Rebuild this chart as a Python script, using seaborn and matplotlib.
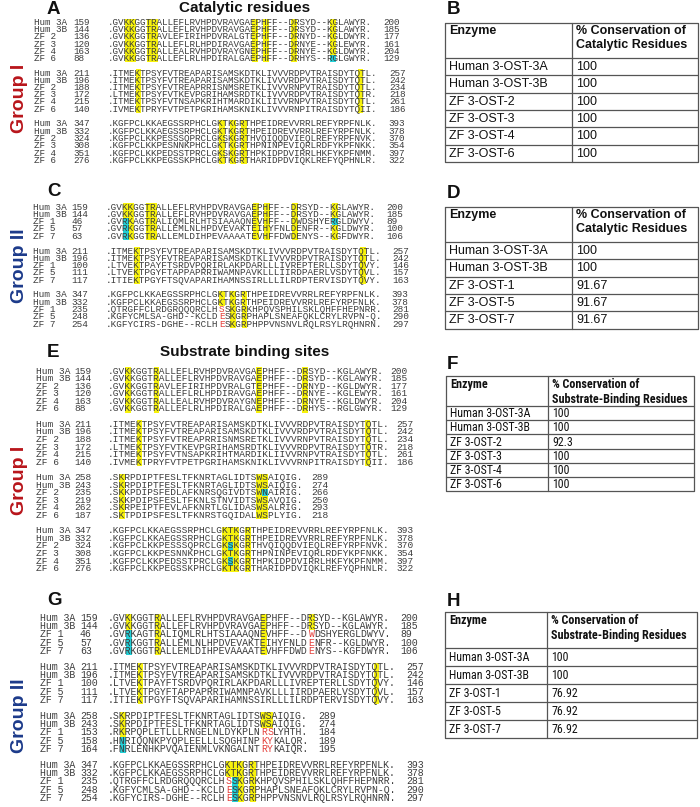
import matplotlib
matplotlib.use("Agg")
import matplotlib.pyplot as plt
import numpy as np
import seaborn as sns
from matplotlib import font_manager
from matplotlib.colors import ListedColormap
from matplotlib.font_manager import FontProperties

sns.set_theme(style="white")
plt.rcParams["font.family"] = ["Liberation Sans", "DejaVu Sans"]

W, H = 700, 807
YELLOW = "#f7f20c"
CYAN = "#22cfd6"
RED_TXT = "#e5403b"
SEQ_TXT = "#3c3c3c"
MONO = "Liberation Mono"

# ---- alignment data -------------------------------------------------------
G1_NAMES = ["Hum 3A", "Hum 3B", "ZF 2", "ZF 3", "ZF 4", "ZF 6"]
G2_NAMES = ["Hum 3A", "Hum 3B", "ZF 1", "ZF 5", "ZF 7"]

HUM_SEG1 = ".GVKKGGTRALLEFLRVHPDVRAVGAEPHFF--DRSYD--KGLAWYR."
HUM_SEG2 = ".ITMEKTPSYFVTREAPARISAMSKDTKLIVVVRDPVTRAISDYTQTL."
HUM_SEG3 = ".SKRPDIPTFESLTFKNRTAGLIDTSWSAIQIG."
HUM_SEG4 = ".KGFPCLKKAEGSSRPHCLGKTKGRTHPEIDREVVRRLREFYRPFNLK."

G1_SEG1 = [HUM_SEG1, HUM_SEG1,
           ".GVKKGGTRAVLEFIRIHPDVRALGTEPHFF--DRNYD--KGLDWYR.",
           ".GVKKGGTRALLEFLRLHPDIRAVGAEPHFF--DRNYE--KGLEWYR.",
           ".GVKKGGTRALLEALRVHPDVRAYGNEPHFF--DRNYE--KGLDWYR.",
           ".GVKKGGTRALLEFLRLHPDIRALGAEPHFF--DRHYS--RGLGWYR."]
G1_SEG1_START = [159, 144, 136, 120, 163, 88]
G1_SEG1_END = [200, 185, 177, 161, 204, 129]

G1_SEG2 = [HUM_SEG2, HUM_SEG2,
           ".ITMEKTPSYFVTREAPRRISNMSRETKLIVVVRNPVTRAISDYTQTL.",
           ".LTMEKTPSYFVTKEVPGRIHAMSRDTKLIVVVRDPVTRAISDYTQTR.",
           ".ITMEKTPSYFVTNSAPKRIHTMARDIKLIIVVRNPVTRAISDYTQTL.",
           ".IVMEKTPRYFVTPETPGRIHAMSKNIKLIVVVRNPITRAISDYTQII."]
G1_SEG2_START = [211, 196, 188, 172, 215, 140]
G1_SEG2_END = [257, 242, 234, 218, 261, 186]

G1_SEG3 = [HUM_SEG3, HUM_SEG3,
           ".SKKPDIPSFEDLAFKNRSQGIVDTSWNAIRIG.",
           ".SKKPDIPSFESLTFKNLSTNVIDTSWSAVQIG.",
           ".SKRPEIPTFEVLAFKNRTLGLIDASWSALRIG.",
           ".SKTPDIPSFESLTFKNRSTGQIDALWSPLYIG."]
G1_SEG3_START = [258, 243, 235, 219, 262, 187]
G1_SEG3_END = [289, 274, 266, 250, 293, 218]

G1_SEG4 = [HUM_SEG4, HUM_SEG4,
           ".KGFPCLKKPESSSQPRCLGKSKGRTHVQIQQDVIEQLREFYRPFNVK.",
           ".KGFPCLKKPESNNKPHCLGKTKGRTHPNINPEVIQRLRDFYKPFNKK.",
           ".KGFPCLKKPEDSSTPRCLGKSKGRTHPKIDPDVIRRLHKFYKPFNMM.",
           ".KGFPCLKKPEGSSKPHCLGKTKGRTHARIDPDVIQKLREFYQPHNLR."]
G1_SEG4_START = [347, 332, 324, 308, 351, 276]
G1_SEG4_END = [393, 378, 370, 354, 397, 322]

G2_SEG1 = [HUM_SEG1, HUM_SEG1,
           ".GVRKAGTRALIQMLRLHTSIAAAQNEVHFF--DWDSHYERGLDWYV.",
           ".GVRKGGTRALLEMLNLHPDVEVAKTEIHYFNLDENFR--KGLDWYR.",
           ".GVRKGGTRALLEMLDIHPEVAAAATEVHFFDWDENYS--KGFDWYR."]
G2_SEG1_START = [159, 144, 46, 57, 63]
G2_SEG1_END = [200, 185, 89, 100, 106]

G2_SEG2 = [HUM_SEG2, HUM_SEG2,
           ".LTVEKTPAYFTSRDVPQRIRLAKPDARLLLIVREPTERLLSDYTQVY.",
           ".LTVEKTPGYFTAPPAPRRIWAMNPAVKLLLIIRDPAERLVSDYTQVL.",
           ".ITIEKTPGYFTSQVAPARIHAMNSSIRLLLILRDPTERVISDYTQVY."]
G2_SEG2_START = [211, 196, 100, 111, 117]
G2_SEG2_END = [257, 242, 146, 157, 163]

G2_SEG3 = [HUM_SEG3, HUM_SEG3,
           ".RKRPQPLETLLLRNGELNLDYKPLNRSLYHTH.",
           ".HNRIQQNKPYQPLEELLLSQGHINPKYKALQR.",
           ".FNRLENHKPVQAIENMLVKNGALNTRYKAIQR."]
G2_SEG3_START = [258, 243, 153, 158, 164]
G2_SEG3_END = [289, 274, 184, 189, 195]

G2_SEG4 = [HUM_SEG4, HUM_SEG4,
           ".QTRGFFCLRDGRQQQRCLHSSKGRKHPQVSPHILSKLQHFFHEPNRR.",
           ".KGFYCMLSA-GHD--KCLDESKGRPHAPLSNEAFQKLCRYLRVPN-Q.",
           ".KGFYCIRS-DGHE--RCLHESKGRPHPPVNSNVLRQLRSYLRQHNRN."]
G2_SEG4_START = [347, 332, 235, 248, 254]
G2_SEG4_END = [393, 378, 281, 290, 297]

# conserved residue columns (y = yellow, c = cyan, r = red letter)
CAT_SEG1_COLS = [3, 4, 7, 8, 26, 28, 33, 40]
CAT_SEG2_COLS = [5, 45]
CAT_SEG4_COLS = [20, 22, 24]
SUB_SEG1_COLS = [3, 8, 26, 34]
SUB_SEG2_COLS = [5, 45]
SUB_SEG3_COLS = [2, 26, 27]
SUB_SEG4_COLS = [20, 21, 22, 24]

A_SEG1_FIX = {5: {40: "c"}}
C_SEG1_FIX = {2: {3: "c", 40: "c"}, 3: {3: "c"}, 4: {3: "c"}}
C_SEG4_FIX = {2: {20: "r"}, 3: {20: "r"}, 4: {20: "r"}}
E_SEG3_FIX = {2: {27: "c"}}
E_SEG4_FIX = {2: {21: "c"}, 4: {21: "c"}}
G_SEG1_FIX = {2: {3: "c", 34: "r"}, 3: {3: "c", 34: "r"}, 4: {3: "c", 34: "r"}}
G_SEG3_FIX = {2: {26: "r", 27: "r"}, 3: {2: "c", 26: "r", 27: "r"},
              4: {2: "c", 26: "r", 27: "r"}}
G_SEG4_FIX = {2: {20: "r", 21: "c"}, 3: {20: "r", 21: "c"}, 4: {20: "r", 21: "c"}}

# ---- table data ------------------------------------------------------------
G1_ENZYMES = ["Human 3-OST-3A", "Human 3-OST-3B", "ZF 3-OST-2",
              "ZF 3-OST-3", "ZF 3-OST-4", "ZF 3-OST-6"]
G2_ENZYMES = ["Human 3-OST-3A", "Human 3-OST-3B", "ZF 3-OST-1",
              "ZF 3-OST-5", "ZF 3-OST-7"]
B_VALUES = [100, 100, 100, 100, 100, 100]
D_VALUES = [100, 100, 91.67, 91.67, 91.67]
F_VALUES = [100, 100, 92.3, 100, 100, 100]
H_VALUES = [100, 100, 76.92, 76.92, 76.92]

CAT_HEADER = "% Conservation of\nCatalytic Residues"
SUB_HEADER = "% Conservation of\nSubstrate-Binding Residues"

# narrow face for the F/H tables if one is installed
_names = {f.name for f in font_manager.fontManager.ttflist}
NARROW = next((n for n in ["Liberation Sans Narrow", "Roboto Condensed", "Arial Narrow"]
               if n in _names), "Liberation Sans")


def draw_block(fig, names, seqs, starts, ends, cols, fixes, geo, first_y):
    x0, px, py, name_x, num_x = geo
    nrow, ncol = len(seqs), len(seqs[0])
    codes = np.zeros((nrow, ncol))
    for i in range(nrow):
        codes[i, cols] = 1
        for c, v in fixes.get(i, {}).items():
            codes[i, c] = {"y": 1, "c": 2, "r": 0}[v]
    top = first_y - py / 2
    ax = fig.add_axes([x0 / W, 1 - (top + nrow * py) / H, ncol * px / W, nrow * py / H])
    sns.heatmap(codes, mask=codes == 0, cmap=ListedColormap([YELLOW, CYAN]),
                vmin=0.5, vmax=2.5, cbar=False, xticklabels=False,
                yticklabels=False, linewidths=0, ax=ax)
    ax.set_facecolor("none")

    kw = dict(va="center", ha="left", fontsize=px * 1.2, color=SEQ_TXT,
              family=MONO, clip_on=False)
    for i in range(nrow):
        y = i + 0.5
        reds = [j for j, v in fixes.get(i, {}).items() if v == "r"]
        # plain runs of the row, red letters drawn on their own
        j = 0
        while j < ncol:
            if j in reds:
                ax.text(j, y, seqs[i][j], **{**kw, "color": RED_TXT})
                j += 1
                continue
            k = j
            while k < ncol and k not in reds:
                k += 1
            ax.text(j, y, seqs[i][j:k], **kw)
            j = k
        ax.text((name_x - x0) / px, y, names[i], **kw)
        ax.text((num_x - x0) / px, y, str(starts[i]), **kw)
        ax.text(ncol + 1.6, y, str(ends[i]), **kw)


def fit_size(fig, text, family, weight, width_px):
    w, _, _ = fig.canvas.get_renderer().get_text_width_height_descent(
        text, FontProperties(family=family, size=10, weight=weight), ismath=False)
    return 10 * width_px / w


def draw_table(ax, x0, xm, x1, top, hdr_h, row_h, enzymes, values, header, fs, hfs, family):
    bottom = top + hdr_h + row_h * len(enzymes)
    lw = 0.9
    ax.plot([x0, x1, x1, x0, x0], [top, top, bottom, bottom, top], color="#555555", lw=lw)
    ax.plot([xm, xm], [top, bottom], color="#555555", lw=lw)
    for k in range(len(enzymes)):
        y = top + hdr_h + k * row_h
        ax.plot([x0, x1], [y, y], color="#555555", lw=lw)
        ax.text(x0 + 4, y + row_h / 2 + 0.5, enzymes[k], va="center", ha="left",
                fontsize=fs, family=family, color="#111111")
        ax.text(xm + 4, y + row_h / 2 + 0.5, f"{values[k]:g}", va="center", ha="left",
                fontsize=fs, family=family, color="#111111")
    ax.text(x0 + 4, top + 2, "Enzyme", va="top", ha="left", fontsize=hfs, family=family,
            fontweight="bold", color="#111111")
    ax.text(xm + 4, top + 2, header, va="top", ha="left", fontsize=hfs, family=family,
            fontweight="bold", color="#111111", linespacing=1.2)


fig = plt.figure(figsize=(W / 100, H / 100), dpi=100)
main = fig.add_axes([0, 0, 1, 1])
main.set_xlim(0, W)
main.set_ylim(H, 0)
main.axis("off")

# panel geometry: seq x0, char width, row pitch, name x, start-number x
GEO_A = (108, 5.55, 7.25, 34, 73)
GEO_C = (106, 5.65, 7.3, 33, 71)
GEO_E = (108, 5.7, 7.6, 36, 74)
GEO_G = (108, 5.9, 8.2, 40, 80)

draw_block(fig, G1_NAMES, G1_SEG1, G1_SEG1_START, G1_SEG1_END, CAT_SEG1_COLS, A_SEG1_FIX, GEO_A, 22.3)
draw_block(fig, G1_NAMES, G1_SEG2, G1_SEG2_START, G1_SEG2_END, CAT_SEG2_COLS, {}, GEO_A, 73)
draw_block(fig, G1_NAMES, G1_SEG4, G1_SEG4_START, G1_SEG4_END, CAT_SEG4_COLS, {}, GEO_A, 124)

draw_block(fig, G2_NAMES, G2_SEG1, G2_SEG1_START, G2_SEG1_END, CAT_SEG1_COLS, C_SEG1_FIX, GEO_C, 207)
draw_block(fig, G2_NAMES, G2_SEG2, G2_SEG2_START, G2_SEG2_END, CAT_SEG2_COLS, {}, GEO_C, 251)
draw_block(fig, G2_NAMES, G2_SEG4, G2_SEG4_START, G2_SEG4_END, CAT_SEG4_COLS, C_SEG4_FIX, GEO_C, 295)

draw_block(fig, G1_NAMES, G1_SEG1, G1_SEG1_START, G1_SEG1_END, SUB_SEG1_COLS, {}, GEO_E, 371)
draw_block(fig, G1_NAMES, G1_SEG2, G1_SEG2_START, G1_SEG2_END, SUB_SEG2_COLS, {}, GEO_E, 424.2)
draw_block(fig, G1_NAMES, G1_SEG3, G1_SEG3_START, G1_SEG3_END, SUB_SEG3_COLS, E_SEG3_FIX, GEO_E, 477.4)
draw_block(fig, G1_NAMES, G1_SEG4, G1_SEG4_START, G1_SEG4_END, SUB_SEG4_COLS, E_SEG4_FIX, GEO_E, 530.6)

draw_block(fig, G2_NAMES, G2_SEG1, G2_SEG1_START, G2_SEG1_END, SUB_SEG1_COLS, G_SEG1_FIX, GEO_G, 618)
draw_block(fig, G2_NAMES, G2_SEG2, G2_SEG2_START, G2_SEG2_END, SUB_SEG2_COLS, {}, GEO_G, 667)
draw_block(fig, G2_NAMES, G2_SEG3, G2_SEG3_START, G2_SEG3_END, SUB_SEG3_COLS, G_SEG3_FIX, GEO_G, 716)
draw_block(fig, G2_NAMES, G2_SEG4, G2_SEG4_START, G2_SEG4_END, SUB_SEG4_COLS, G_SEG4_FIX, GEO_G, 765)

# panel letters and titles
for letter, x, y in [("A", 47, 13.5), ("B", 447, 13.5), ("C", 47, 196), ("D", 447, 198),
                     ("E", 47, 357), ("F", 447, 369), ("G", 47, 605), ("H", 447, 606)]:
    main.text(x, y, letter, fontsize=13.5, fontweight="bold", ha="left", va="baseline", color="#111111")
main.text(245, 8, "Catalytic residues", fontsize=11, fontweight="bold", ha="center", va="center", color="#111111")
main.text(245, 352, "Substrate binding sites", fontsize=11, fontweight="bold", ha="center", va="center", color="#111111")

for text, y, color in [("Group I", 98, "#b8151b"), ("Group II", 266, "#1c3a8a"),
                       ("Group I", 480, "#b8151b"), ("Group II", 716, "#1c3a8a")]:
    main.text(20, y, text, fontsize=14, fontweight="bold", rotation=90,
              ha="center", va="center", color=color)

draw_table(main, 445, 572, 698, 23, 35, 17.3, G1_ENZYMES, B_VALUES, CAT_HEADER, 9, 9, "Liberation Sans")
draw_table(main, 445, 572, 698, 207, 35, 17.3, G2_ENZYMES, D_VALUES, CAT_HEADER, 9, 9, "Liberation Sans")

body_fs = min(fit_size(fig, "Human 3-OST-3B", NARROW, "normal", 80), 9.5)
head_fs = min(fit_size(fig, "Substrate-Binding Residues", NARROW, "bold", 136), 9.5)
draw_table(main, 446, 548, 694, 376, 30, 14.2, G1_ENZYMES, F_VALUES, SUB_HEADER,
           min(body_fs, 9), head_fs, NARROW)
draw_table(main, 445, 547, 697, 612, 36, 18, G2_ENZYMES, H_VALUES, SUB_HEADER,
           body_fs, head_fs, NARROW)

fig.savefig("out.png", dpi=100)
